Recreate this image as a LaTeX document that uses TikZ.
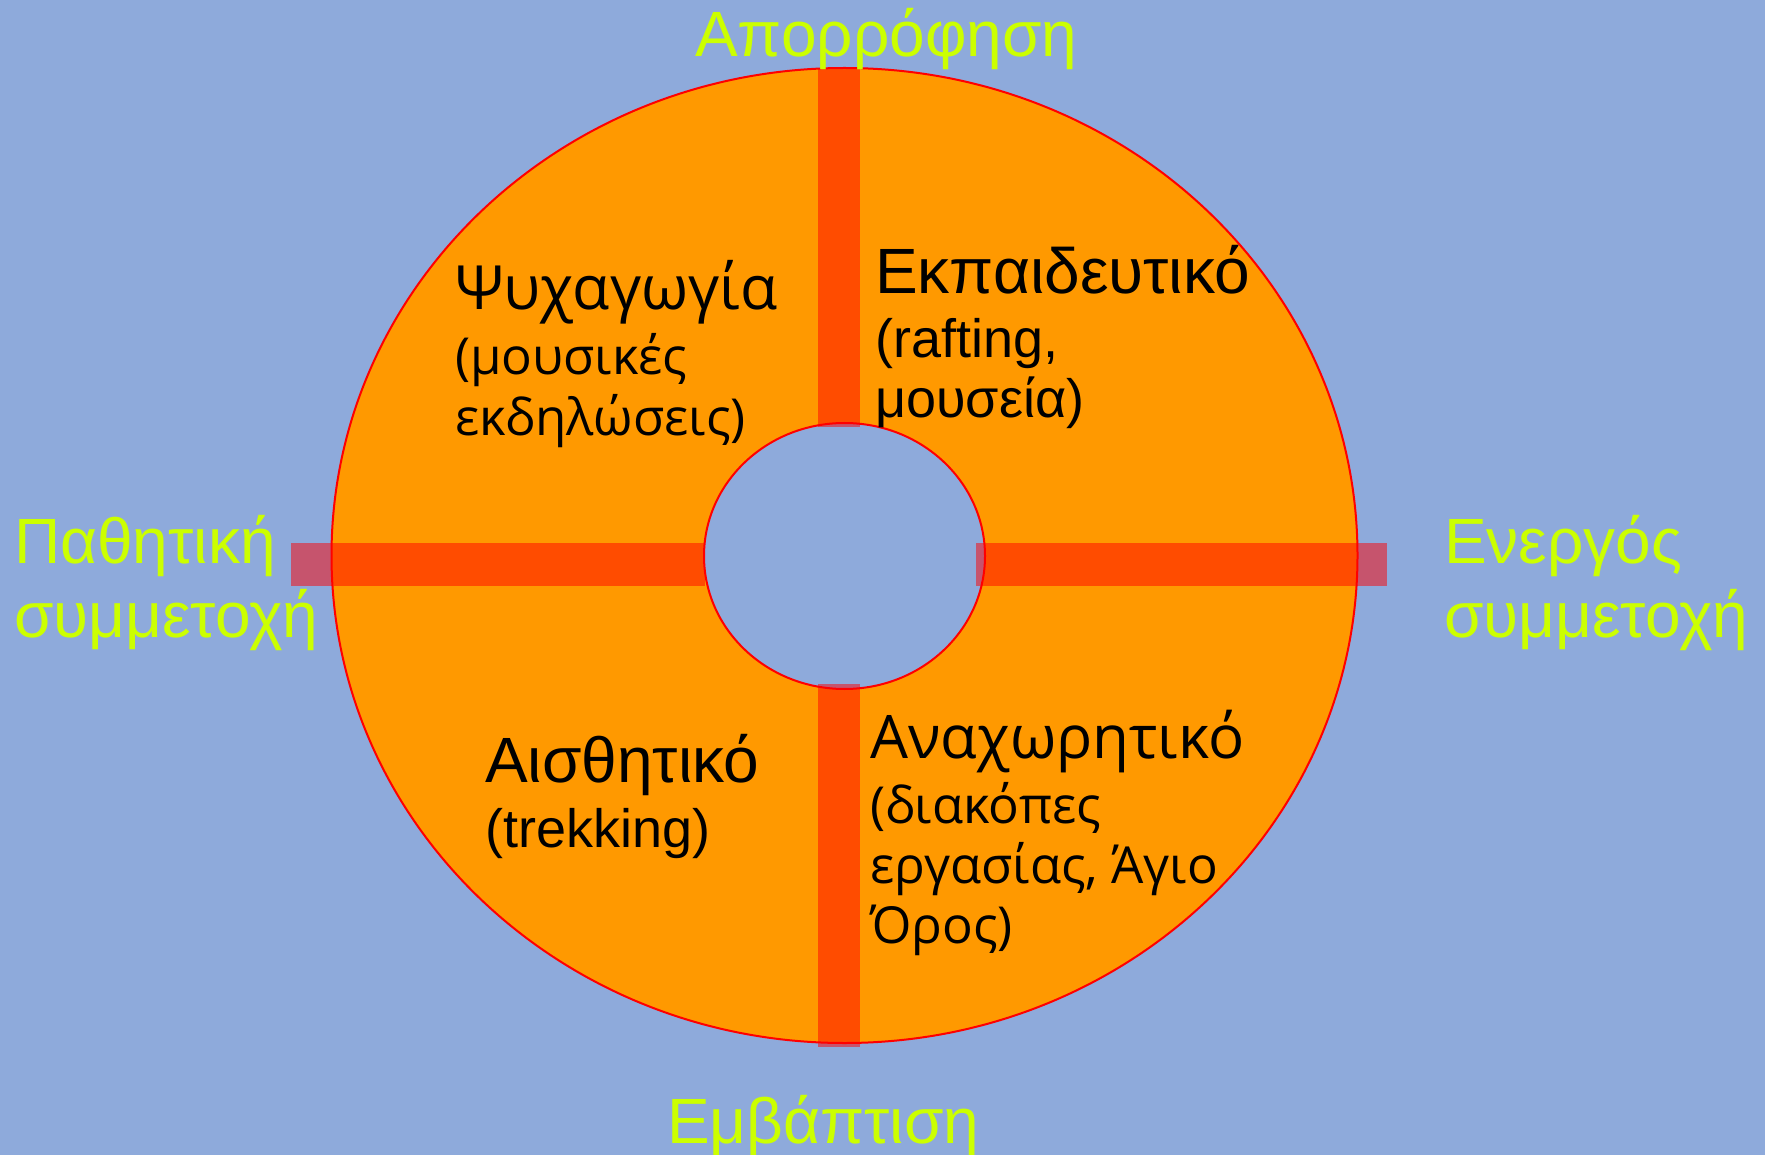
\documentclass[tikz,border=0pt]{standalone}
\usepackage{fontspec}
\setmainfont{Liberation Sans}
\newfontfamily\osans{Open Sans}
\definecolor{bgblue}{HTML}{8EAADB}
\definecolor{ringorange}{HTML}{FF9900}
\definecolor{labyellow}{HTML}{CCFF00}
\tikzset{
  ring/.style={fill=ringorange, draw=red, line width=2pt},
  hole/.style={fill=bgblue, draw=red, line width=2pt},
  barfill/.style={fill=red, opacity=0.5},
  axislabel/.style={anchor=base west, inner sep=0pt, text=labyellow, font=\fontsize{64}{70}\selectfont},
  titleA/.style={anchor=base west, inner sep=0pt, font=\fontsize{64}{70}\selectfont},
  subA/.style={anchor=base west, inner sep=0pt, font=\fontsize{54}{60}\selectfont},
  titleB/.style={anchor=base west, inner sep=0pt, font=\osans\fontsize{61}{66}\selectfont},
  subB/.style={anchor=base west, inner sep=0pt, font=\osans\fontsize{51}{56}\selectfont},
}
\begin{document}
\begin{tikzpicture}[x=1pt,y=-1pt]
\fill[bgblue] (0,0) rectangle (1765,1155);
\useasboundingbox (0,0) rectangle (1765,1155);
% ring
\filldraw[ring] (844.5,555.5) ellipse [x radius=513pt, y radius=487.5pt];
\filldraw[hole] (844.5,556) ellipse [x radius=140.5pt, y radius=133pt];
% bars
\fill[barfill] (818,68) rectangle (860,427);
\fill[barfill] (818,684) rectangle (860,1047);
\fill[barfill] (291,543) rectangle (705,586);
\fill[barfill] (976,543) rectangle (1387,586);
% axis labels
\node[axislabel] (top) at (695,57) {Απορρόφηση};
\node[axislabel] (bottom) at (667,1143) {Εμβάπτιση};
\node[axislabel] (left1) at (14,563) {Παθητική};
\node[axislabel] (left2) at (14,637) {συμμετοχή};
\node[axislabel] (right1) at (1444,563) {Ενεργός};
\node[axislabel] (right2) at (1444,637) {συμμετοχή};
% quadrant texts
\node[titleB] (qa1) at (455,310) {Ψυχαγωγία};
\node[subB] (qa2) at (455,375) {(μουσικές};
\node[subB] (qa3) at (455,436) {εκδηλώσεις)};
\node[titleA] (qb1) at (875,294) {Εκπαιδευτικό};
\node[subA] (qb2) at (875,358) {(rafting,};
\node[subA] (qb3) at (875,418) {μουσεία)};
\node[titleA] (qc1) at (485,782) {Αισθητικό};
\node[subA] (qc2) at (485,847) {(trekking)};
\node[titleB, font=\osans\fontsize{60}{66}\selectfont] (qd1) at (870,758) {Αναχωρητικό};
\node[subB] (qd2) at (870,823) {(διακόπες};
\node[subB] (qd3) at (870,883) {εργασίας, Άγιο};
\node[subB] (qd4) at (870,943) {Όρος)};
\end{tikzpicture}
\end{document}
